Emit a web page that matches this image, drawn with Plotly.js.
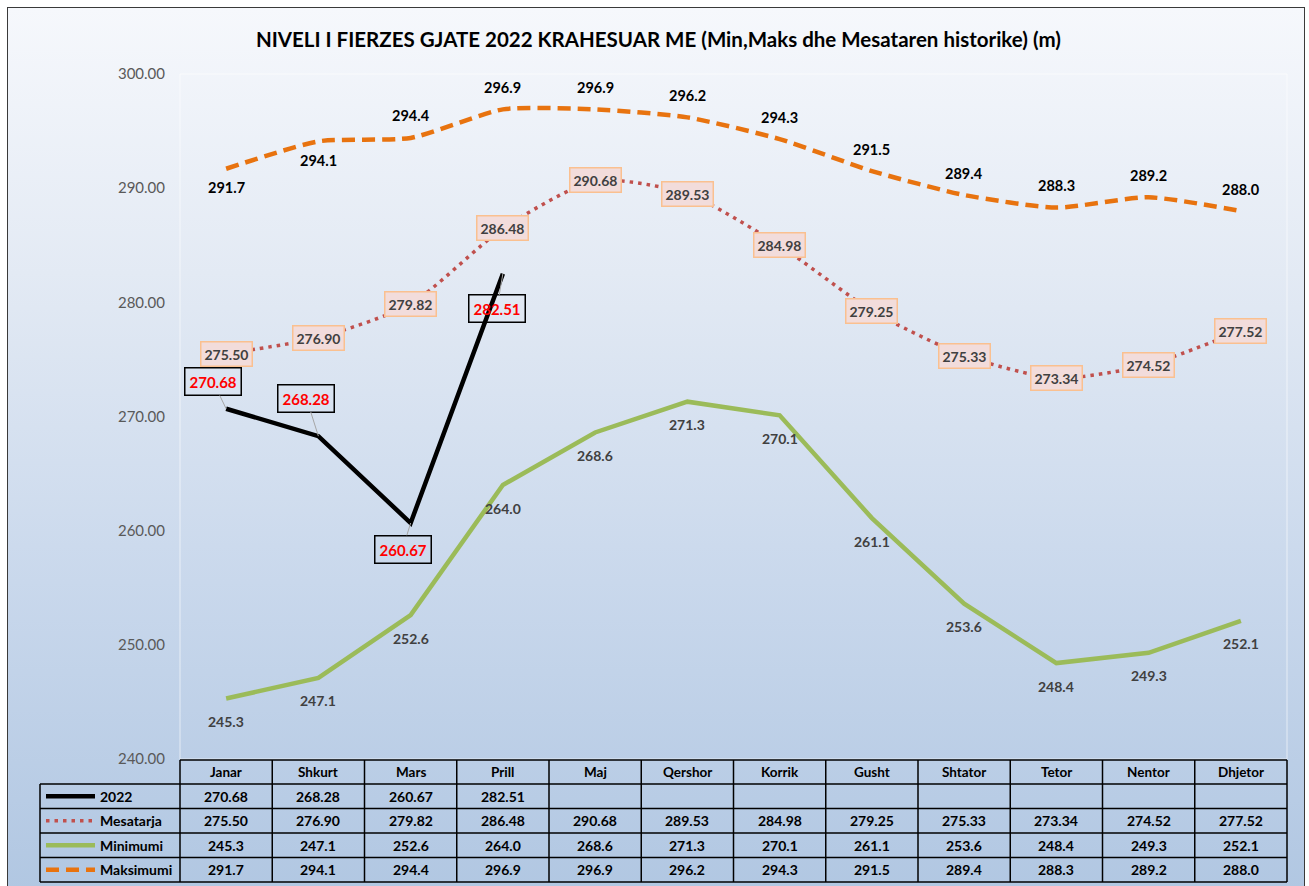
<!DOCTYPE html>
<html>
<head>
<meta charset="utf-8">
<script src="https://cdn.plot.ly/plotly-3.0.1.min.js"></script>
<style>
  html, body { margin:0; padding:0; background:#ffffff; width:1309px; height:886px; overflow:hidden; }
  #frame { position:absolute; left:7px; top:7px; width:1298px; height:884px; border:1.6px solid #3a3a3a;
           background: linear-gradient(to bottom, #f6f8fc 0%, #e3eaf4 30%, #c9d8ec 65%, #b1c7e2 100%); box-sizing:border-box; }
  #chart { position:absolute; left:0; top:0; width:1309px; height:886px; }
</style>
</head>
<body>
<div id="frame"></div>
<div id="chart"></div>
<script>
const months = ['Janar','Shkurt','Mars','Prill','Maj','Qershor','Korrik','Gusht','Shtator','Tetor','Nentor','Dhjetor'];
const y2022 = [270.68, 268.28, 260.67, 282.51, null, null, null, null, null, null, null, null];
const mesatarja = [275.50, 276.90, 279.82, 286.48, 290.68, 289.53, 284.98, 279.25, 275.33, 273.34, 274.52, 277.52];
const minimumi = [245.3, 247.1, 252.6, 264.0, 268.6, 271.3, 270.1, 261.1, 253.6, 248.4, 249.3, 252.1];
const maksimumi = [291.7, 294.1, 294.4, 296.9, 296.9, 296.2, 294.3, 291.5, 289.4, 288.3, 289.2, 288.0];
const seriesNames = ['2022', 'Mesatarja', 'Minimumi', 'Maksimumi'];
const titleText = 'NIVELI I FIERZES GJATE 2022 KRAHESUAR ME (Min,Maks dhe Mesataren historike) (m)';

const FONT = 'Lato, "Open Sans", sans-serif';
const W = 1309, H = 886;
const M = {l:180, r:22, t:74, b:127};
const plotH = H - M.t - M.b;
const plotW = W - M.l - M.r;
const py = p => (H - M.b - p) / plotH;   // pixel y -> paper y
const px = p => (p - M.l) / plotW;       // pixel x -> paper x

const C2022 = '#000000', CMES = '#c0504d', CMIN = '#9bbb59', CMAX = '#e8730f';

const traces = [
  {x: months, y: maksimumi, type:'scatter', mode:'lines', name: seriesNames[3],
   line:{color:CMAX, width:4.5, dash:'13px,7px', shape:'spline', smoothing:0.6}},
  {x: months, y: mesatarja, type:'scatter', mode:'lines', name: seriesNames[1],
   line:{color:CMES, width:3.5, dash:'3.5px,5px', shape:'spline', smoothing:0.6}},
  {x: months, y: minimumi, type:'scatter', mode:'lines', name: seriesNames[2],
   line:{color:CMIN, width:4.5}},
  {x: months, y: y2022, type:'scatter', mode:'lines', name: seriesNames[0],
   line:{color:C2022, width:4.5}, connectgaps:false}
];

const annotations = [];
// Maksimumi labels
maksimumi.forEach((v, i) => {
  annotations.push({x: months[i], y: v, xref:'x', yref:'y', text: v.toFixed(1), showarrow:false,
    yshift: i < 2 ? -19 : 22, font:{family:FONT, size:14.5, color:'#000000', weight:'bold'}});
});
// Mesatarja labels
mesatarja.forEach((v, i) => {
  annotations.push({x: months[i], y: v, xref:'x', yref:'y', text: v.toFixed(2), showarrow:false,
    bgcolor:'#f2dcdb', bordercolor:'#fac090', borderwidth:1.5, borderpad:3,
    font:{family:FONT, size:14, color:'#404040', weight:'bold'}});
});
// Minimumi labels
minimumi.forEach((v, i) => {
  annotations.push({x: months[i], y: v, xref:'x', yref:'y', text: v.toFixed(1), showarrow:false,
    yshift:-23, font:{family:FONT, size:14, color:'#404040', weight:'bold'}});
});
// 2022 labels with leader lines
const offs2022 = [[-13,-27],[-12,-38],[-8,26],[-6,35]];
y2022.forEach((v, i) => {
  if (v === null) return;
  annotations.push({x: months[i], y: v, xref:'x', yref:'y', text: v.toFixed(2), showarrow:true,
    arrowhead:0, arrowwidth:1, arrowcolor:'#a6a6a6', ax: offs2022[i][0], ay: offs2022[i][1],
    bordercolor:'#000000', borderwidth:1.5, borderpad:4,
    font:{family:FONT, size:15, color:'#ff0000', weight:'bold'}});
});

// Data table
const rowEdges = [760, 784, 808.5, 833, 857.5, 882];
const rowCenters = [];
for (let r = 0; r < 5; r++) rowCenters.push((rowEdges[r] + rowEdges[r+1]) / 2);
const tableRows = [
  y2022.map(v => v === null ? '' : v.toFixed(2)),
  mesatarja.map(v => v.toFixed(2)),
  minimumi.map(v => v.toFixed(1)),
  maksimumi.map(v => v.toFixed(1))
];
months.forEach((m, i) => {
  annotations.push({x: m, xref:'x', y: py(rowCenters[0]), yref:'paper', yanchor:'middle', text: m, showarrow:false,
    font:{family:FONT, size:13.5, color:'#000000', weight:'bold'}});
  tableRows.forEach((row, r) => {
    if (row[i] === '') return;
    annotations.push({x: m, xref:'x', y: py(rowCenters[r+1]), yref:'paper', yanchor:'middle', text: row[i], showarrow:false,
      font:{family:FONT, size:14, color:'#000000', weight:'bold'}});
  });
});
seriesNames.forEach((n, r) => {
  annotations.push({x: px(98), xref:'paper', xanchor:'left', y: py(rowCenters[r+1]), yref:'paper', yanchor:'middle', text: n,
    showarrow:false, font:{family:FONT, size:14, color:'#000000', weight:'bold'}});
});

const shapes = [];
const tableLine = {color:'#000000', width:1.5};
// plot area faint border
shapes.push({type:'rect', xref:'paper', yref:'paper', x0:0, x1:1, y0:0, y1:1, line:{color:'rgba(255,255,255,0.6)', width:1}, layer:'below'});
// horizontal lines
shapes.push({type:'line', xref:'paper', yref:'paper', x0:0, x1:1, y0:py(rowEdges[0]), y1:py(rowEdges[0]), line:tableLine});
for (let r = 1; r < rowEdges.length; r++) {
  shapes.push({type:'line', xref:'paper', yref:'paper', x0:px(40), x1:1, y0:py(rowEdges[r]), y1:py(rowEdges[r]), line:tableLine});
}
// vertical lines
for (let c = 0; c <= months.length; c++) {
  shapes.push({type:'line', xref:'paper', yref:'paper', x0:c/months.length, x1:c/months.length,
    y0:py(rowEdges[0]), y1:py(rowEdges[5]), line:tableLine});
}
shapes.push({type:'line', xref:'paper', yref:'paper', x0:px(40), x1:px(40), y0:py(rowEdges[1]), y1:py(rowEdges[5]), line:tableLine});
// legend keys
const keyStyles = [
  {color:C2022, width:4.5},
  {color:CMES, width:3.5, dash:'3.5px,5px'},
  {color:CMIN, width:4.5},
  {color:CMAX, width:4.5, dash:'13px,7px'}
];
keyStyles.forEach((ls, r) => {
  shapes.push({type:'line', xref:'paper', yref:'paper', x0:px(46), x1:px(95),
    y0:py(rowCenters[r+1]), y1:py(rowCenters[r+1]), line:ls});
});

const layout = {
  width: W, height: H,
  margin: M,
  paper_bgcolor:'rgba(0,0,0,0)', plot_bgcolor:'rgba(0,0,0,0)',
  showlegend:false,
  title:{text: titleText, x:0.503, xref:'container', xanchor:'center', y: 1 - 40/H, yref:'container', yanchor:'middle',
    font:{family:FONT, size:20.5, color:'#000000', weight:'bold'}},
  xaxis:{type:'category', categoryorder:'array', categoryarray: months, range:[-0.5, 11.5],
    showticklabels:false, showgrid:false, zeroline:false, showline:false, ticks:''},
  yaxis:{range:[240, 300], dtick:10, tick0:240, tickformat:'.2f', showgrid:false, zeroline:false,
    showline:false, ticks:'', ticklabelstandoff:14,
    tickfont:{family:FONT, size:15, color:'#595959'}},
  annotations: annotations,
  shapes: shapes
};

Plotly.newPlot('chart', traces, layout, {displayModeBar:false, staticPlot:true});
</script>
</body>
</html>
